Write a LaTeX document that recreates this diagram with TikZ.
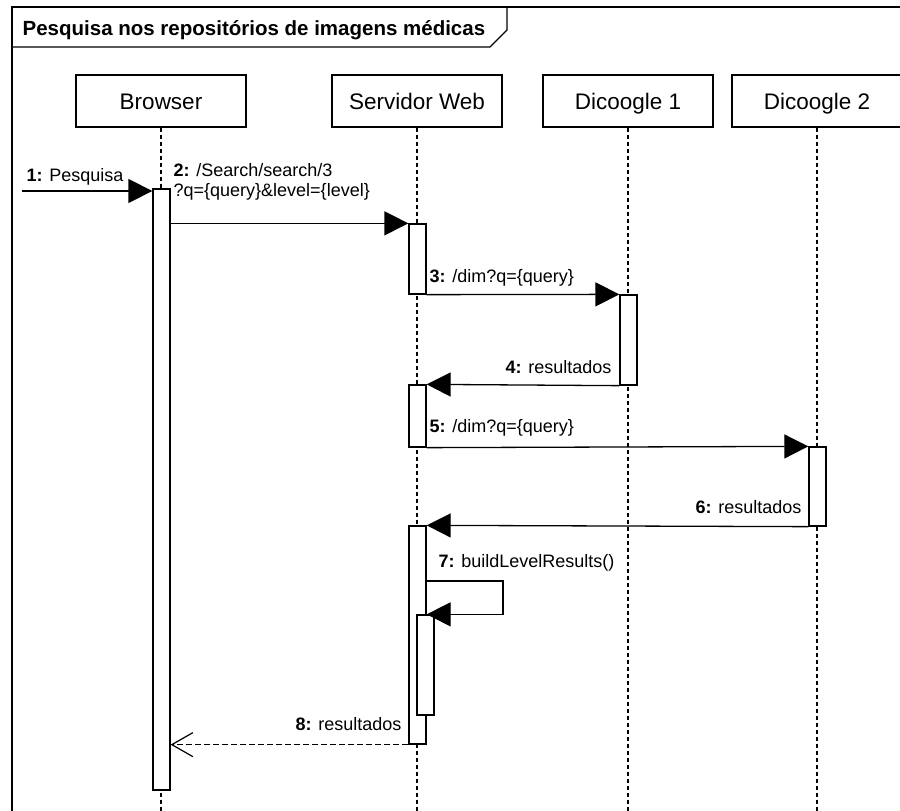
\documentclass[tikz,border=0pt]{standalone}
\usepackage{fontspec}
\setmainfont{Liberation Sans}
\usetikzlibrary{arrows.meta}
\begin{document}
\begin{tikzpicture}[x=1pt,y=-1pt,line width=1.3pt,
  header/.style={draw,fill=white,minimum width=170pt,minimum height=52pt,inner sep=0pt,
    text height=17pt,text depth=1pt,font=\fontsize{22.5}{27}\selectfont},
  activation/.style={draw,fill=white,minimum width=17pt,inner sep=0pt},
  lifeline/.style={line width=1.2pt,dash pattern=on 4pt off 3pt},
  msg/.style={-{Triangle[length=24pt,width=24pt]}},
  reply/.style={dash pattern=on 6pt off 3pt,-{Straight Barb[length=21pt,width=24pt,line width=1.2pt]}},
  lbl/.style={font=\fontsize{18}{21}\selectfont,inner sep=0pt}]
\useasboundingbox (0,0) rectangle (900,811);

% lifeline headers
\node[header] (hB) at (161,101) {Browser};
\node[header] (hS) at (417,101) {Servidor Web};
\node[header] (hD1) at (628,101) {Dicoogle 1};
\node[header] (hD2) at (817,101) {Dicoogle 2};

% lifelines
\coordinate (bot) at (0,811);
\foreach \h in {hB,hS,hD1,hD2}
  \draw[lifeline] (\h.south) -- (\h.south |- bot);

% activation bars
\node[activation,minimum height=601pt] (aB) at (161.5,489.5) {};
\node[activation,minimum height=70pt] (aS1) at (417.5,259) {};
\node[activation,minimum height=90pt] (aD1) at (628.5,340) {};
\node[activation,minimum height=62pt] (aS2) at (417.5,416) {};
\node[activation,minimum height=79pt] (aD2) at (817.5,486.5) {};
\node[activation,minimum height=218pt] (aS3) at (417.5,635) {};
\node[activation,minimum height=100pt] (aS4) at (425.5,665) {};

% frame and title tab
\draw (12,811) -- (12,7) -- (905,7);
\draw (12,47) -- (490,47) -- (507,30) -- (507,7);
\node[anchor=base west,inner sep=0pt,font=\fontsize{20.5}{24}\selectfont\bfseries] (title) at (22,35)
  {Pesquisa nos repositórios de imagens médicas};

% 1: incoming search
\coordinate (m1s) at (22,191);
\draw[msg] (m1s) -- (m1s -| aB.west);
\node[lbl,anchor=base west] (t1) at (26,181) {\textbf{1:} Pesquisa};

% 2: browser to web server
\draw[msg] (aS1.north west -| aB.east) -- (aS1.north west);
\node[lbl,anchor=base west,align=left] (t2) at (173,196)
  {\textbf{2:} /Search/search/3\\[-1pt]?q=\{query\}\&level=\{level\}};

% 3: web server to Dicoogle 1
\draw[msg] (aS1.south east) -- (aD1.north west);
\node[lbl,anchor=base west] (t3) at (429,282) {\textbf{3:} /dim?q=\{query\}};

% 4: results from Dicoogle 1
\draw[msg] (aD1.south west) -- (aS2.north east);
\node[lbl,anchor=base east] (t4) at (612,373) {\textbf{4:} resultados};

% 5: web server to Dicoogle 2
\draw[msg] (aS2.south east) -- (aD2.north west);
\node[lbl,anchor=base west] (t5) at (429,432) {\textbf{5:} /dim?q=\{query\}};

% 6: results from Dicoogle 2
\draw[msg] (aD2.south west) -- (aS3.north east);
\node[lbl,anchor=base east] (t6) at (802,513) {\textbf{6:} resultados};

% 7: self call
\coordinate (loop) at (503,581);
\draw[msg] (aS3.east |- loop) -- (loop) |- (aS4.north -| aS3.east);
\node[lbl,anchor=base west] (t7) at (438,567) {\textbf{7:} buildLevelResults()};

% 8: reply to browser
\draw[reply] (aS3.south west) -- (aS3.south west -| aB.east);
\node[lbl,anchor=base east] (t8) at (402,730) {\textbf{8:} resultados};
\end{tikzpicture}
\end{document}
